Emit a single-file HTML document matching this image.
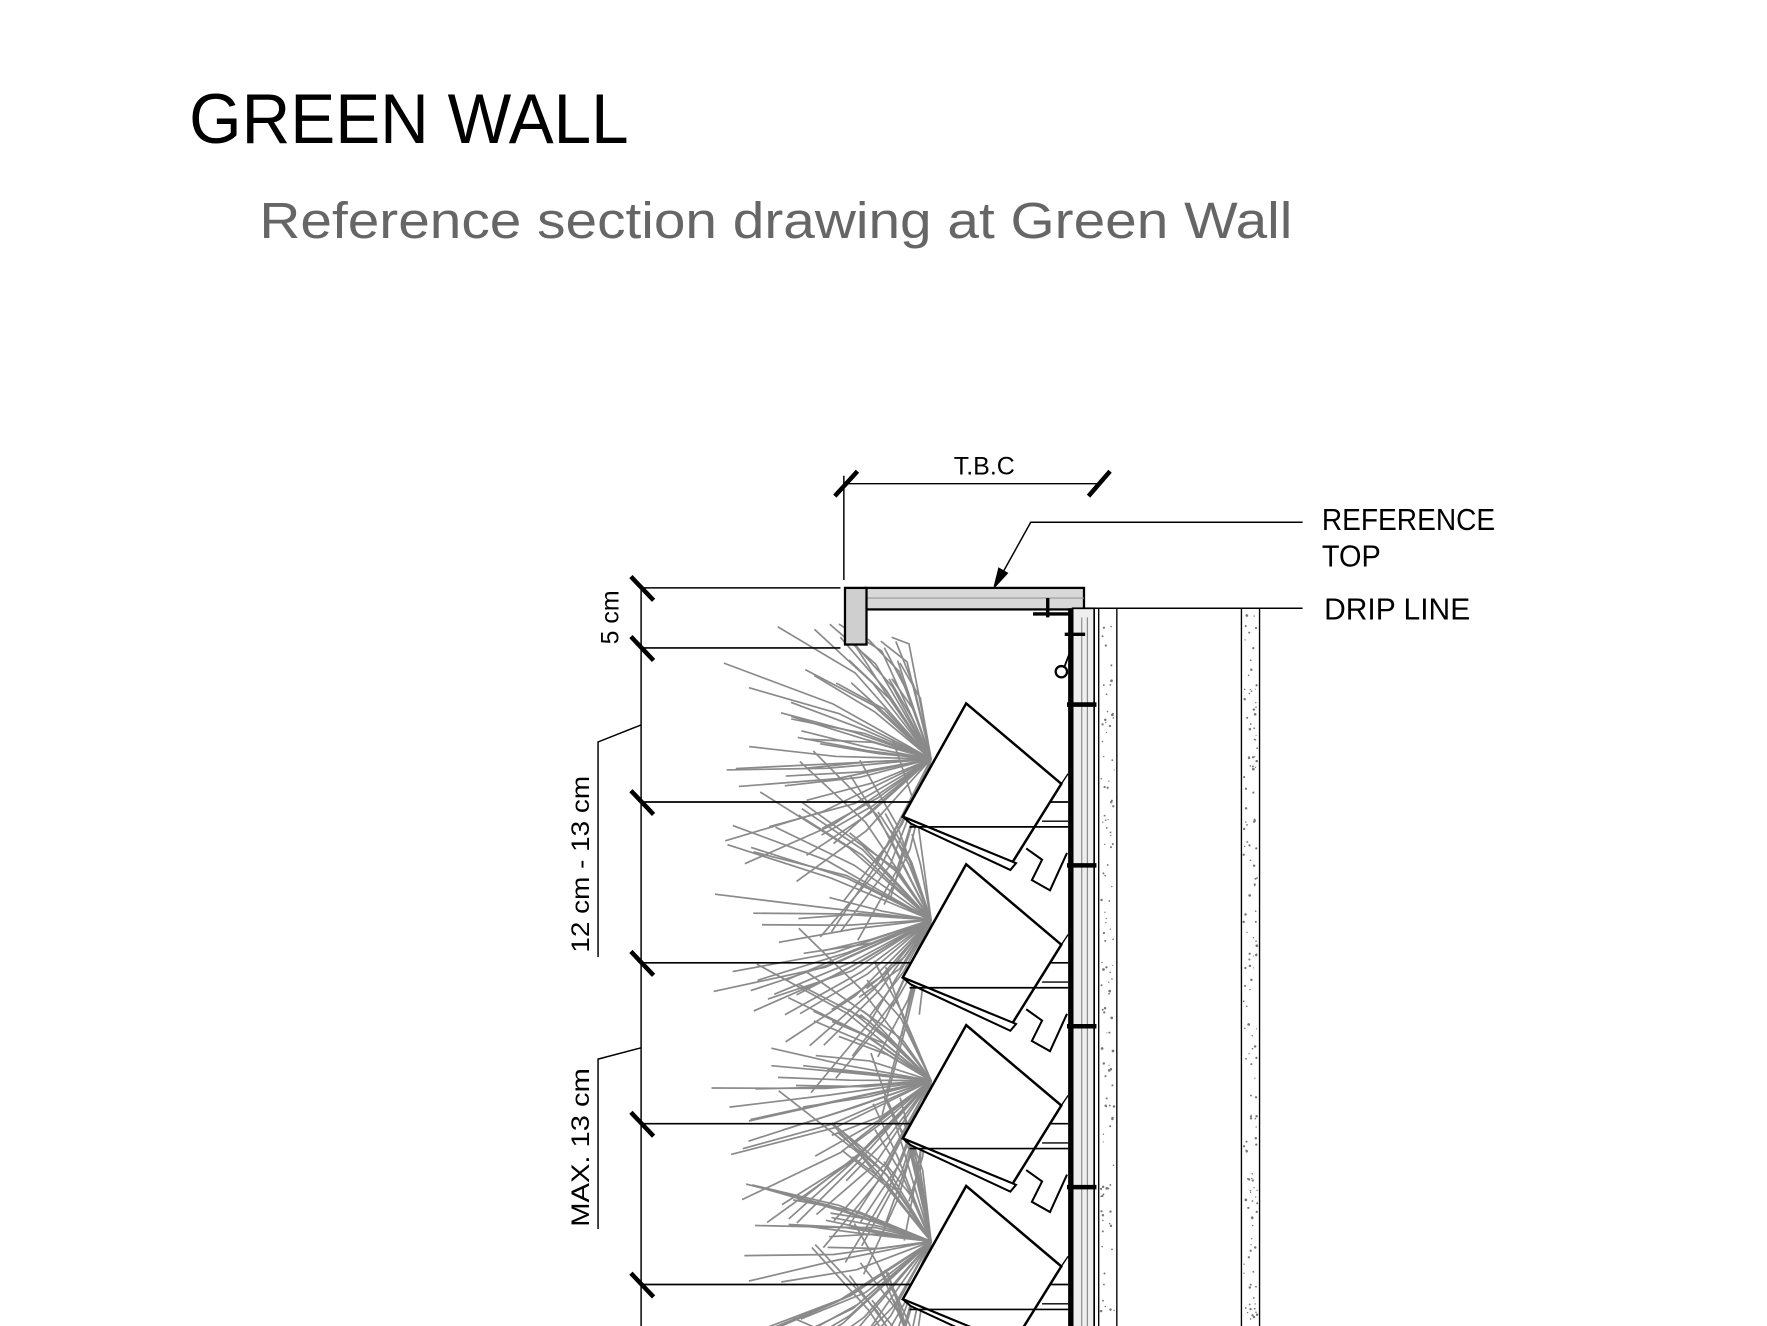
<!DOCTYPE html>
<html><head><meta charset="utf-8"><style>
html,body{margin:0;padding:0;background:#fff;width:1767px;height:1326px;overflow:hidden}
svg{display:block;position:absolute;left:0;top:0}
text{font-family:"Liberation Sans",sans-serif}
</style></head><body>
<svg id="s" width="1767" height="1326" viewBox="0 0 1560 1170.6" xmlns="http://www.w3.org/2000/svg" overflow="hidden">
<rect width="1560" height="1171" fill="#fff"/>
<text x="167" y="126" font-size="62" fill="#000" textLength="388" lengthAdjust="spacingAndGlyphs">GREEN WALL</text>
<text x="229" y="210" font-size="45" fill="#666" textLength="912" lengthAdjust="spacingAndGlyphs">Reference section drawing at Green Wall</text>

<g id="plants" stroke="#8a8a8a" stroke-width="1.5" fill="none"></g>

<g stroke="#000" fill="none" stroke-width="1.6">
<line x1="745" y1="427" x2="970" y2="427" stroke-width="1.3"/>
<line x1="745" y1="420" x2="745" y2="512" stroke-width="1.3"/>
<line x1="737" y1="438" x2="757" y2="416" stroke-width="4"/>
<line x1="961" y1="438" x2="980" y2="416" stroke-width="4"/>
<polyline points="880,515 910,461 1150,461" stroke-width="1.3"/>
<polygon points="878,518 882,502 889,506" fill="#000"/>
<line x1="966" y1="537" x2="1150" y2="537" stroke-width="1.3"/>
<rect x="764" y="519" width="193" height="19" fill="#d8d8d8" stroke-width="2"/>
<line x1="764" y1="528" x2="957" y2="528" stroke="#999" stroke-width="1"/>
<rect x="746" y="519" width="19" height="50" fill="#cfcfcf" stroke-width="2"/>
<line x1="925" y1="528" x2="925" y2="545" stroke-width="3"/>
<line x1="912" y1="542" x2="944" y2="542" stroke-width="3"/>
<line x1="945" y1="537" x2="945" y2="1171" stroke-width="4"/>
<rect x="947" y="537" width="19" height="640" fill="#eee" stroke-width="1.5"/>
<line x1="955" y1="545" x2="955" y2="1171" stroke="#888" stroke-width="1"/>
<line x1="960" y1="545" x2="960" y2="1171" stroke="#888" stroke-width="1"/>
<line x1="970" y1="537" x2="970" y2="1171" stroke-width="1.2"/>
<line x1="986" y1="537" x2="986" y2="1171" stroke-width="1.2"/>
<line x1="1096" y1="537" x2="1096" y2="1171" stroke-width="1.2"/>
<line x1="1112" y1="537" x2="1112" y2="1171" stroke-width="1.2"/>
<circle cx="937" cy="593" r="5" stroke-width="2"/>
<polyline points="940,588 946,572 944,556" stroke-width="1.6"/>
<line x1="940" y1="560" x2="958" y2="560" stroke-width="3"/>
<line x1="566" y1="519" x2="566" y2="1171" stroke-width="1.3"/>
<line x1="566" y1="519" x2="742" y2="519" stroke-width="1.3"/>
<line x1="566" y1="572" x2="742" y2="572" stroke-width="1.5"/>
<polyline points="566,640 528,655 528,845" stroke-width="1.3"/>
<polyline points="566,925 528,935 528,1085" stroke-width="1.3"/>
</g>
<g id="mods" stroke="#000" fill="none"></g>
<g id="dots" fill="#777"></g>

<g font-size="27" fill="#000">
<text x="1167" y="468" textLength="153" lengthAdjust="spacingAndGlyphs">REFERENCE</text>
<text x="1167" y="500" textLength="52" lengthAdjust="spacingAndGlyphs">TOP</text>
<text x="1169" y="547" textLength="129" lengthAdjust="spacingAndGlyphs">DRIP LINE</text>
</g>
<text x="869" y="419" font-size="22" text-anchor="middle" fill="#000" textLength="54" lengthAdjust="spacingAndGlyphs">T.B.C</text>
<text transform="translate(546,545) rotate(-90)" font-size="22" text-anchor="middle" fill="#000">5 cm</text>
<text transform="translate(520,763) rotate(-90)" font-size="22" text-anchor="middle" fill="#000" textLength="156" lengthAdjust="spacingAndGlyphs">12 cm - 13 cm</text>
<text transform="translate(520,1013) rotate(-90)" font-size="22" text-anchor="middle" fill="#000" textLength="140" lengthAdjust="spacingAndGlyphs">MAX.  13 cm</text>
</svg>
<script>
var NS="http://www.w3.org/2000/svg";
function el(p,t,a){var e=document.createElementNS(NS,t);for(var k in a)e.setAttribute(k,a[k]);p.appendChild(e);return e;}
var seed=7;function r(){seed=(seed*16807)%2147483647;return seed/2147483647;}
var P=document.getElementById('plants'),M=document.getElementById('mods'),D=document.getElementById('dots');
for(var k=0;k<5;k++){
  var dy=142*k,cx=822,cy=670+dy;
  for(var i=0;i<55;i++){
    var a=(-100-r()*165)*Math.PI/180;
    var L=90+r()*120;
    var mx=cx+Math.cos(a)*L*0.5+(r()-0.5)*10, my=cy+Math.sin(a)*L*0.5+(r()-0.5)*10;
    var ex=cx+Math.cos(a)*L, ey=cy+Math.sin(a)*L*0.85;
    if(ey<548&&k==0) ey=548+r()*20;
    el(P,'polyline',{points:cx+','+cy+' '+mx.toFixed(1)+','+my.toFixed(1)+' '+ex.toFixed(1)+','+ey.toFixed(1)});
  }
  var ty=708+dy;
  if(ty<1171){
    el(M,'line',{x1:566,y1:ty,x2:943,y2:ty,'stroke-width':1.5});
    el(M,'line',{x1:557,y1:ty-10,x2:577,y2:ty+11,'stroke-width':4});
  }
  el(M,'polygon',{points:'853,'+(621+dy)+' 937,'+(692+dy)+' 894,'+(761+dy)+' 797,'+(721+dy),fill:'#fff','stroke-width':2.2});
  el(M,'polygon',{points:'797,'+(721+dy)+' 804,'+(727+dy)+' 892,'+(768+dy)+' 897,'+(762+dy),fill:'#fff','stroke-width':1.8});
  el(M,'line',{x1:803,y1:730+dy,x2:943,y2:730+dy,'stroke-width':1.5});
  el(M,'line',{x1:920,y1:725+dy,x2:943,y2:725+dy,'stroke-width':1.2});
  el(M,'polyline',{points:'906,'+(749+dy)+' 920,'+(759+dy)+' 911,'+(777+dy)+' 927,'+(786+dy)+' 942,'+(753+dy),'stroke-width':1.8});
  el(M,'line',{x1:937,y1:692+dy,x2:943,y2:683+dy,'stroke-width':1.2});
  el(M,'line',{x1:942,y1:622+dy,x2:968,y2:622+dy,'stroke-width':4});
}
el(M,'line',{x1:557,y1:509,x2:577,y2:530,'stroke-width':4});
el(M,'line',{x1:557,y1:562,x2:577,y2:583,'stroke-width':4});
for(var i=0;i<260;i++){
  var x=r()<0.45?972+r()*12:1098+r()*12;
  el(D,'circle',{cx:x.toFixed(1),cy:(540+r()*630).toFixed(1),r:(0.5+r()*0.7).toFixed(1)});
}
</script>
</body></html>
